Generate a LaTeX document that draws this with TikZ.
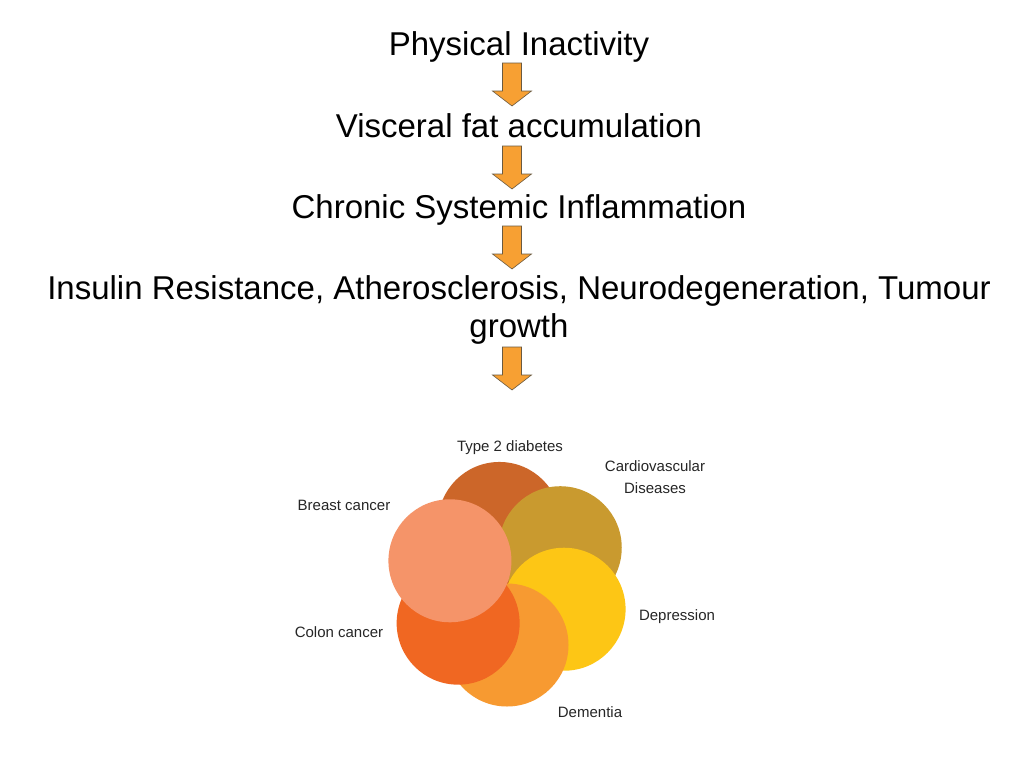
\documentclass[tikz,border=0pt]{standalone}
\usepackage{fontspec}
\setmainfont{Liberation Sans}
\usetikzlibrary{calc}
\definecolor{arrowfill}{HTML}{F7A033}
\definecolor{arrowline}{HTML}{6B5A40}
\definecolor{cT}{HTML}{CC6629}
\definecolor{cC}{HTML}{C99A2F}
\definecolor{cDe}{HTML}{FDC615}
\definecolor{cDm}{HTML}{F79A31}
\definecolor{cCo}{HTML}{F06722}
\definecolor{cB}{HTML}{F59469}
\begin{document}
\begin{tikzpicture}[x=1pt,y=-1pt,
  title/.style={font=\fontsize{33}{38}\selectfont, align=center, inner sep=0pt, anchor=base},
  lab/.style={font=\fontsize{15}{22}\selectfont, align=center, inner sep=0pt, anchor=base, text=black!85},
  blockarr/.style={fill=arrowfill, draw=arrowline, line width=0.6pt, line join=miter},
  petal/.style={circle, minimum size=123pt, inner sep=0pt}]
\useasboundingbox (0,0) rectangle (1024,768);
\fill[white] (0,0) rectangle (1024,768);

% titles
\node[title] (t1) at (519,56) {Physical Inactivity};
\node[title] (t2) at (519,137) {Visceral fat accumulation};
\node[title] (t3) at (519,218) {Chronic Systemic Inflammation};
\node[title] (t4) at (519,337) {Insulin Resistance, Atherosclerosis, Neurodegeneration, Tumour\\growth};

% block arrows
\newcommand{\blkarr}[2]{%
  \coordinate (#1) at (512,#2);
  \draw[blockarr] ([xshift=-9.5pt]#1) -- ([xshift=9.5pt]#1) -- ([xshift=9.5pt,yshift=-28pt]#1)
    -- ([xshift=19.5pt,yshift=-28pt]#1) -- ([yshift=-43pt]#1) -- ([xshift=-19.5pt,yshift=-28pt]#1)
    -- ([xshift=-9.5pt,yshift=-28pt]#1) -- cycle;}
\blkarr{a1}{63}
\blkarr{a2}{146}
\blkarr{a3}{226}
\blkarr{a4}{347}

% flower
\coordinate (fc) at (507,585);
\node[petal, fill=cT]  (pT)  at ($(fc)+(97:62pt)$)  {};
\node[petal, fill=cC]  (pC)  at ($(fc)+(35:65pt)$)  {};
\node[petal, fill=cDe] (pDe) at ($(fc)+(-23:62pt)$) {};
\node[petal, fill=cDm] (pDm) at ($(fc)+(-90:60pt)$) {};
\node[petal, fill=cCo] (pCo) at ($(fc)+(-142:62pt)$) {};
\node[petal, fill=cB]  (pB)  at ($(fc)+(157:62pt)$) {};

% labels
\node[lab] (lT)  at (510,451) {Type 2 diabetes};
\node[lab] (lC)  at (655,493) {Cardiovascular\\Diseases};
\node[lab] (lB)  at (344,510) {Breast cancer};
\node[lab] (lDe) at (677,620) {Depression};
\node[lab] (lCo) at (339,637) {Colon cancer};
\node[lab] (lDm) at (590,717) {Dementia};
\end{tikzpicture}
\end{document}
